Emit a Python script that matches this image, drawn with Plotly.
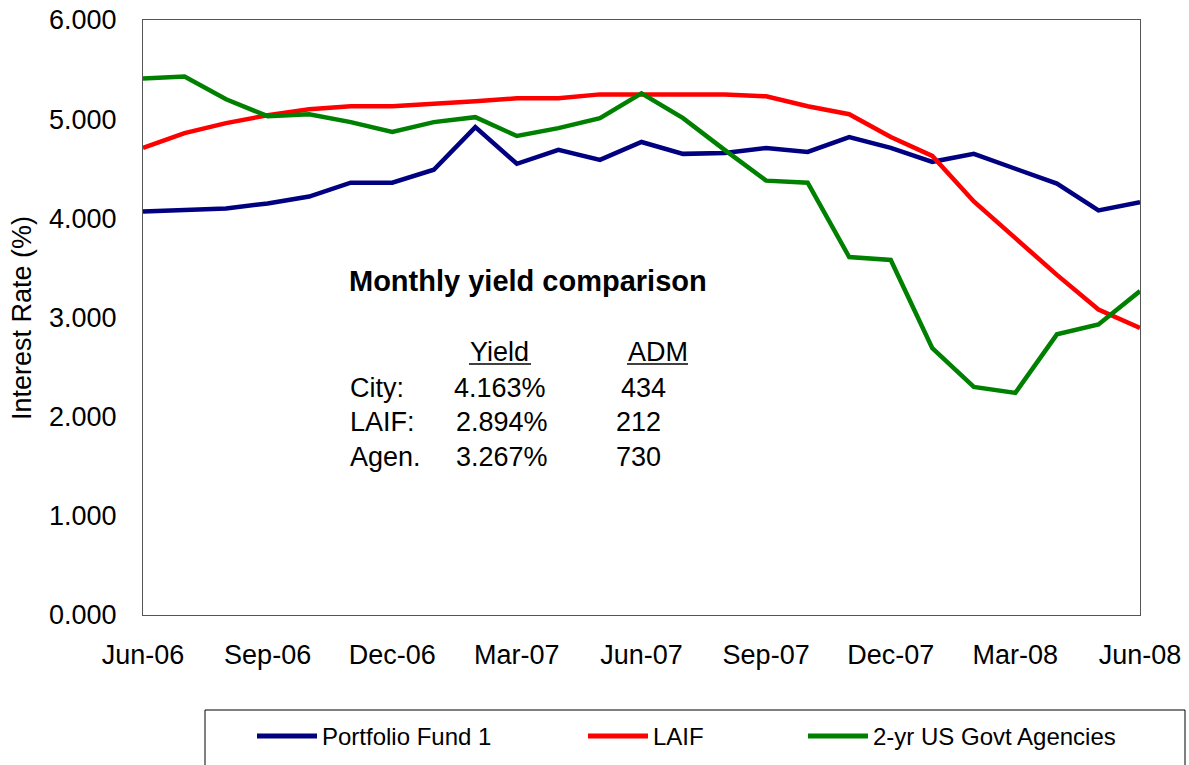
import plotly.graph_objects as go

months = ["Jun-06", "Jul-06", "Aug-06", "Sep-06", "Oct-06", "Nov-06", "Dec-06",
          "Jan-07", "Feb-07", "Mar-07", "Apr-07", "May-07", "Jun-07", "Jul-07",
          "Aug-07", "Sep-07", "Oct-07", "Nov-07", "Dec-07", "Jan-08", "Feb-08",
          "Mar-08", "Apr-08", "May-08", "Jun-08"]
tick_labels = months[::3]

portfolio = [4.07, 4.08, 4.10, 4.15, 4.22, 4.36, 4.36, 4.49, 4.92, 4.55, 4.69, 4.59, 4.77,
             4.65, 4.66, 4.71, 4.67, 4.82, 4.71, 4.57, 4.65, 4.50, 4.35, 4.08, 4.163]
laif = [4.71, 4.86, 4.96, 5.04, 5.10, 5.13, 5.13, 5.15, 5.18, 5.21, 5.21, 5.25, 5.25,
        5.25, 5.25, 5.23, 5.13, 5.05, 4.82, 4.63, 4.17, 3.80, 3.43, 3.08, 2.894]
agencies = [5.41, 5.43, 5.20, 5.03, 5.05, 4.97, 4.87, 4.97, 5.02, 4.83, 4.91, 5.01, 5.26,
            5.01, 4.69, 4.38, 4.36, 3.61, 3.58, 2.69, 2.30, 2.24, 2.83, 2.93, 3.267]

series_names = ["Portfolio Fund 1", "LAIF", "2-yr US Govt Agencies"]
series_colors = ["#000080", "#FF0000", "#008000"]

table_title = "Monthly yield comparison"
table_headers = ["Yield", "ADM"]
table_rows = ["City:", "LAIF:", "Agen."]
table_yield = ["4.163%", "2.894%", "3.267%"]
table_adm = ["434", "212", "730"]

W, H = 1189, 765
# plot area in page coordinates
L, R, T, B = 143, 1140, 20, 615
FONT = "Liberation Sans, Arial, sans-serif"


def px(xp):
    return (xp - L) / (R - L)


def py(yp):
    return (B - yp) / (B - T)


fig = go.Figure()
for name, vals, col in zip(series_names, [portfolio, laif, agencies], series_colors):
    fig.add_trace(go.Scatter(x=months, y=vals, mode="lines", name=name,
                             line=dict(color=col, width=4.5), showlegend=False))

annotations = []
shapes = []


def label(text, x, y, size, anchor="left", **kw):
    annotations.append(dict(text=text, x=px(x), y=py(y), xref="paper", yref="paper",
                            showarrow=False, xanchor=anchor, yanchor="middle",
                            font=dict(size=size, color="black", family=FONT), **kw))


# Y axis title
label("Interest Rate (%)", 22, 318, 27, anchor="center", textangle=-90)

# Text box
label("<b>" + table_title + "</b>", 347, 281, 29)
label(table_headers[0], 468, 352, 27)
label(table_headers[1], 626, 352, 27)
for x0, x1 in [(469, 531), (627, 688)]:
    shapes.append(dict(type="line", xref="paper", yref="paper", x0=px(x0), x1=px(x1),
                       y0=py(364), y1=py(364), line=dict(color="black", width=1.5)))
row_y = [388, 422, 457]
yield_x = [452, 454, 454]
adm_x = [619, 614, 614]
for lab, yv, av, ry, yx, ax in zip(table_rows, table_yield, table_adm, row_y, yield_x, adm_x):
    label(lab, 348, ry, 27)
    label(yv, yx, ry, 27)
    label(av, ax, ry, 27)

# Legend box (bottom edge falls outside the picture, as in the original)
shapes.append(dict(type="rect", xref="paper", yref="paper", x0=px(205), x1=px(1185),
                   y0=py(710), y1=py(790), line=dict(color="black", width=1), fillcolor="white"))
leg_x = [257, 588, 808]
for name, col, lx in zip(series_names, series_colors, leg_x):
    shapes.append(dict(type="line", xref="paper", yref="paper", x0=px(lx), x1=px(lx + 60),
                       y0=py(736), y1=py(736), line=dict(color=col, width=5)))
    label(name, lx + 63, 736, 24)

fig.update_layout(
    width=W, height=H, autosize=False,
    margin=dict(l=L, r=W - R, t=T, b=H - B, pad=0, autoexpand=False),
    paper_bgcolor="white", plot_bgcolor="white",
    font=dict(family=FONT, color="black", size=27),
    showlegend=False,
    annotations=annotations, shapes=shapes,
    xaxis=dict(type="category", range=[0, len(months) - 1], tickvals=tick_labels,
               ticktext=tick_labels, showgrid=False, zeroline=False, showline=True,
               linecolor="#555555", linewidth=1, mirror=True, ticks="", automargin=False,
               ticklabeloverflow="allow",
               ticklabelstandoff=16, tickfont=dict(size=27, family=FONT, color="black")),
    yaxis=dict(range=[0, 6], dtick=1, tick0=0, tickformat=".3f", showgrid=False, zeroline=False,
               showline=True, linecolor="#555555", linewidth=1, mirror=True, ticks="",
               automargin=False, ticklabeloverflow="allow",
               ticklabelstandoff=20, tickfont=dict(size=27, family=FONT, color="black")),
)

# remove the default page margin so the figure fills the window exactly
fig.write_html("out.html", config={"displayModeBar": False},
               post_script="document.body.style.margin='0px';document.body.style.overflow='hidden';")
